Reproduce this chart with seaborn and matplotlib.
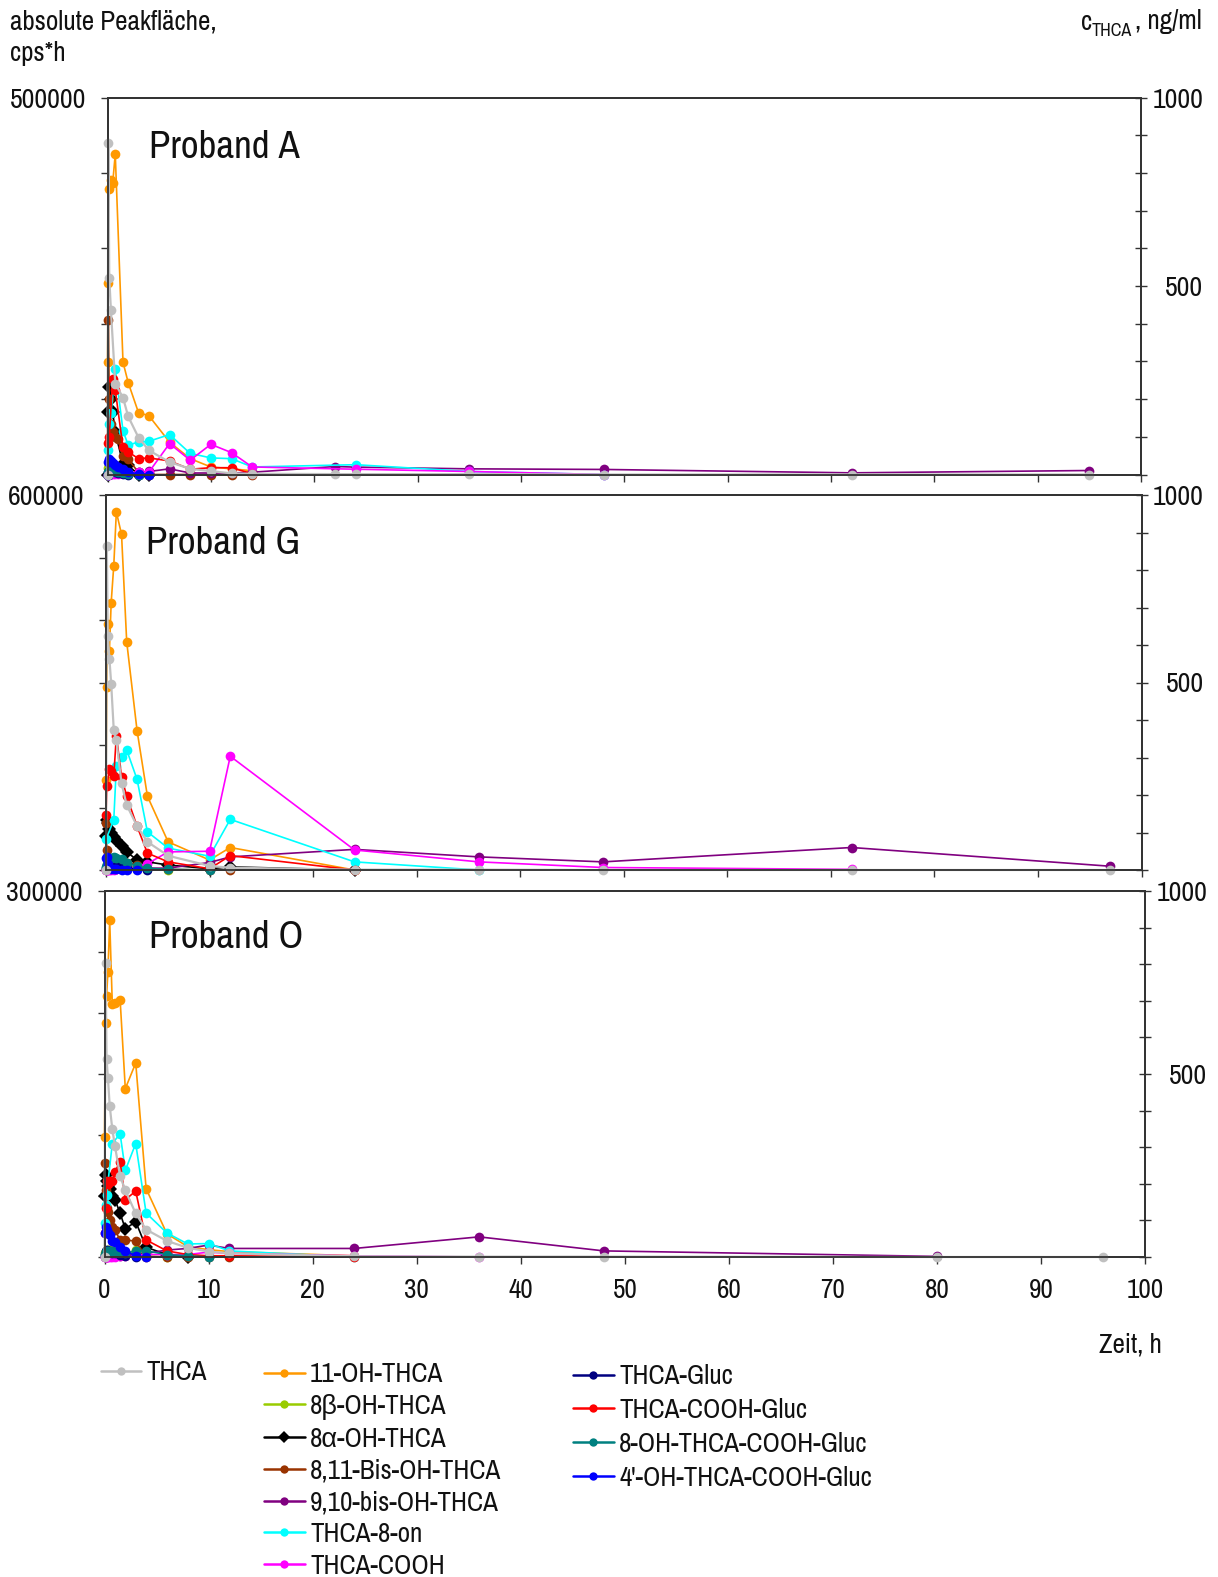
import matplotlib
matplotlib.use("Agg")
import matplotlib.pyplot as plt
import pandas as pd
import seaborn as sns
from matplotlib import font_manager as fm
from matplotlib.lines import Line2D
from matplotlib.ticker import MultipleLocator, FuncFormatter

sns.set_theme(style="white")
_installed = {f.name for f in fm.fontManager.ttflist}
NARROW = next((n for n in ("Archivo Narrow", "PT Sans Narrow", "Liberation Sans Narrow")
               if n in _installed), "Liberation Sans")
FS = 0.84 if NARROW == "Liberation Sans" else 1.0
plt.rcParams["font.family"] = [NARROW, "Liberation Sans", "DejaVu Sans"]
plt.rcParams["axes.unicode_minus"] = False

# ---------------------------------------------------------------- series
SERIES = ["THCA", "11-OH-THCA", "8β-OH-THCA", "8α-OH-THCA", "8,11-Bis-OH-THCA",
          "9,10-bis-OH-THCA", "THCA-8-on", "THCA-COOH", "THCA-Gluc",
          "THCA-COOH-Gluc", "8-OH-THCA-COOH-Gluc", "4'-OH-THCA-COOH-Gluc"]
COLORS = ["#c0c0c0", "#ff9900", "#99cc00", "#000000", "#993300", "#800080",
          "#00ffff", "#ff00ff", "#000080", "#ff0000", "#008080", "#0000ff"]
MARKERS = ["o", "o", "o", "D", "o", "o", "o", "o", "o", "o", "o", "o"]

# ---------------------------------------------------------------- Proband A
TIME_A = [0, 0.08, 0.17, 0.33, 0.5, 0.75, 1, 1.5, 2, 3, 4, 6, 8, 10, 12, 14, 22, 24, 35, 48, 72, 95]
A_THCA = [0, 880, 522, 436, None, 241, None, 204, 154, 98, 64, 33, 15, 9, 3, 2, 1, 1, 1, 0, 0, 0]
A_11OH = [149000, 254000, 378000, 391000, 386000, 425000, None, 149000, 122000, 82000, 78000,
          43000, 21000, 10000, 7500, 5000, None, None, None, None, None, None]
A_8bOH = [0, 8000, 12000, 14000, 12000, 10000, 8000, 5000, 2000, 1000] + [None] * 12
A_8aOH = [0, 83000, 116000, 100000, 83000, 56000, None, 14000, 12000, 0, 0] + [None] * 11
A_811 = [0, 205000, 100000, 67000, 56000, 50000, 47000, 25000, 20000, 3000, 0, 0, 0, 0, 0, 0] + [None] * 6
A_910 = [0, 0, 1000, 1000, 2000, 2000, 2000, 2000, 2000, 3000, 4000, 7500, 2000, 2000, 2000, 3000,
         10600, 9800, 7500, 6700, 2200, 5300]
A_8ON = [0, 33000, 67000, 81000, None, 140000, None, 58000, 39000, 43000, 44000, 53000, 28000,
         22000, 21000, 10000, None, 13000, 4000, 0, None, None]
A_COOH = [0, 0, 0, 1000, 1000, 1000, 1000, 2000, 2000, 3000, 3000, 41000, 19000, 40000, 29000,
          10000, None, 7000, 4000, 0, None, None]
A_GLUC = [0, 3000, 4000, 5000, 4000, 3000, 2000, 1000, 0, 0] + [None] * 12
A_COOHGLUC = [0, 42000, 50000, None, 127000, 112000, None, 36000, 30000, 21000, 22000, 18000,
              7000, 9000, 9000, 1000] + [None] * 6
A_8OHGLUC = [0, 3000, 5000, 6000, 5000, 4000, 3000, 2000, 1000, 0] + [None] * 12
A_4OHGLUC = [0, 16000, 20000, 18000, 15000, 12000, 10000, 7000, 3000, 1000, 0] + [None] * 11

# ---------------------------------------------------------------- Proband G
TIME_G = [0, 0.08, 0.17, 0.33, 0.5, 0.75, 1, 1.5, 2, 3, 4, 6, 10, 12, 24, 36, 48, 72, 97]
G_THCA = [0, 865, 625, 563, 497, 373, 346, 231, 173, 117, 75, 38, 11, 6, 1, 1, 0, 0, 0]
G_11OH = [144000, 293000, 394000, 351000, 428000, 487000, 573000, 537000, 365000, 223000,
          118000, 45000, 16000, 36000, 0, None, None, None, None]
G_8bOH = [2000, 6000, 10000, 9000, 8000, 8000, 7000, 8000, 6000, 3000, 1000, 0] + [None] * 7
G_8aOH = [55000, 80000, 75000, 66000, 60000, 53000, 48000, 38000, 29000, 16000, 13000, 8000,
          2000, 5000, 0] + [None] * 4
G_811 = [75000, 32000, 19000, 16000, 15000, 15000, 15000, 12000, 12000, 8000, 1000, 1000, 0, 0] + [None] * 5
G_910 = [0, 0, 1000, 1000, 1000, 1000, 1000, 2000, 2000, 3000, 3000, 3000, 12000, 21000, 33000,
         21000, 13000, 36000, 6000]
G_8ON = [49000, None, None, None, None, 80000, 166000, 181000, 192000, 145000, 61000, 35000,
         22000, 81000, 13000, 0, None, None, None]
G_COOH = [0, 0, 0, 0, 0, 0, 1000, 2000, 3000, 5000, 10000, 29000, 30000, 182000, 32000, 13000,
          4000, 1000, None]
G_GLUC = [3000, 8000, 10000, 9000, 8000, 7000, 6000, 4000, 3000, 1000, 0] + [None] * 8
G_COOHGLUC = [88000, 134000, None, 161000, 158000, 150000, 215000, 149000, 118000, 70000, 27000,
              13000, 2000, 23000, 0] + [None] * 4
G_8OHGLUC = [5000, 10000, 15000, 18000, 20000, 21000, 20000, 18000, 12000, 6000, 3000, 1000, 0] + [None] * 6
G_4OHGLUC = [19000, 21000, 10000, 3000, 2000, 1000, 1000, 0, 0, 0] + [None] * 9

# ---------------------------------------------------------------- Proband O
TIME_O = [0, 0.1, 0.2, 0.33, 0.5, 0.75, 1, 1.5, 2, 3, 4, 6, 8, 10, 12, 24, 36, 48, 80, 96]
O_THCA = [0, 803, 541, 488, 413, 349, 304, 221, 182, 119, 75, 44, 25, 15, 10, 2, 1, 1, 0, 0]
O_11OH = [98000, 192000, 214000, 234000, 276000, 207000, 208000, 211000, 138000, 159000, 56000,
          19000, 8500, 6000, 4400, 1000, None, None, None, None]
O_8bOH = [3000, 5000, 6000, 6000, 6000, 5000, 5000, 5000, 2000, 6000, 1000, 0] + [None] * 8
O_8aOH = [50000, 67000, 62000, 58000, 56000, 50000, 47000, 36000, 23000, 29000, 8000, 2000, 0] + [None] * 7
O_811 = [77000, 55000, 40000, 37000, 30000, 25000, 22000, 14000, 14000, 13000, 0, 0, 0, 0, 0] + [None] * 5
O_910 = [0, 0, 0, 1000, 1000, 1000, 1000, 1000, 2000, 2000, 3000, 5700, 7000, 9800, 7000, 7000,
         16500, 5000, 500, None]
O_8ON = [28000, 43000, 51000, None, None, 93000, None, 101000, 71000, 93000, 36000, 19700, 10700,
         11000, 5000, 0] + [None] * 4
O_COOH = [0, 0, 0, 0, 0, 0, 0, 1000, 1000, 1000, 2000, 2000, 2000, 4000, 3000, 1000, 0] + [None] * 3
O_GLUC = [2000, 5000, 6000, 5000, 4000, 3000, 3000, 2000, 1000, 0] + [None] * 10
O_COOHGLUC = [20000, 40000, 62000, 60000, 62000, 62000, 70000, 78000, 47000, 54000, 14000, 5000,
              2000, 1000, 1000, 0] + [None] * 4
O_8OHGLUC = [2000, 4000, 5000, 5000, 5000, 5000, 4000, 4000, 3000, 5000, 5000, 2000, 1000, 0] + [None] * 6
O_4OHGLUC = [20000, 25000, 22000, 20000, 18000, 13000, 12000, 8000, 5000, 1000, 0] + [None] * 9

PANELS = [
    ("Proband A", TIME_A,
     [A_THCA, A_11OH, A_8bOH, A_8aOH, A_811, A_910, A_8ON, A_COOH, A_GLUC, A_COOHGLUC, A_8OHGLUC, A_4OHGLUC],
     500000, 100000, (107.5, 97.5, 1141.0, 474.5)),
    ("Proband G", TIME_G,
     [G_THCA, G_11OH, G_8bOH, G_8aOH, G_811, G_910, G_8ON, G_COOH, G_GLUC, G_COOHGLUC, G_8OHGLUC, G_4OHGLUC],
     600000, 100000, (106.0, 495.0, 1141.5, 870.0)),
    ("Proband O", TIME_O,
     [O_THCA, O_11OH, O_8bOH, O_8aOH, O_811, O_910, O_8ON, O_COOH, O_GLUC, O_COOHGLUC, O_8OHGLUC, O_4OHGLUC],
     300000, 50000, (104.5, 891.0, 1145.0, 1257.0)),
]

# ---------------------------------------------------------------- layout helpers
W, H = 1218, 1577
fig = plt.figure(figsize=(W / 100, H / 100), dpi=100)
fig.patch.set_facecolor("white")


def fig_xy(x, y):
    return x / W, 1 - y / H


def box(l, t, r, b):
    return [l / W, 1 - b / H, (r - l) / W, (b - t) / H]


SPINE = "#333333"
INK = "#111111"
TICK_FS = 20 * FS
palette = dict(zip(SERIES, COLORS))
marker_map = dict(zip(SERIES, MARKERS))
left_names = SERIES[1:]

for i, (title, times, values, ymax, ystep, rect) in enumerate(PANELS):
    rows = []
    for name, vals in zip(SERIES, values):
        for t, v in zip(times, vals):
            if v is not None:
                rows.append({"t": t, "v": v, "series": name})
    df = pd.DataFrame(rows)

    ax = fig.add_axes(box(*rect))
    sns.lineplot(data=df[df["series"] != "THCA"], x="t", y="v", hue="series", style="series",
                 hue_order=left_names, style_order=left_names, palette=palette,
                 markers=marker_map, dashes=False, estimator=None, sort=True, legend=False,
                 linewidth=1.2, markersize=7, markeredgewidth=0, clip_on=False, ax=ax)
    ax2 = ax.twinx()
    sns.lineplot(data=df[df["series"] == "THCA"], x="t", y="v", color=COLORS[0], marker="o",
                 estimator=None, sort=True, legend=False, linewidth=1.6, markersize=7,
                 markeredgewidth=0, clip_on=False, ax=ax2)

    ax.set_xlim(0, 100)
    ax.set_ylim(0, ymax)
    ax2.set_ylim(0, 1000)
    for a in (ax, ax2):
        a.set_xlabel("")
        a.set_ylabel("")
        a.set_facecolor("none")
        for s in a.spines.values():
            s.set_color(SPINE)
            s.set_linewidth(1.3)
    ax.set_facecolor("white")
    ax.set_zorder(0)

    ax.xaxis.set_major_locator(MultipleLocator(10))
    ax.yaxis.set_major_locator(MultipleLocator(ystep))
    ax.yaxis.set_major_formatter(FuncFormatter(lambda v, p, top=ymax: f"{int(round(v))}" if abs(v - top) < 1 else ""))
    ax.tick_params(axis="y", which="major", direction="out", length=5, width=1, color=SPINE,
                   labelsize=TICK_FS, pad=10.5, left=True, labelleft=True, labelcolor=INK)
    ax.tick_params(axis="x", which="major", direction="out", length=5, width=1, color=SPINE,
                   labelsize=19.5 * FS, pad=10, bottom=True, labelbottom=(i == 2), labelcolor=INK)

    ax2.yaxis.set_major_locator(MultipleLocator(100))
    ax2.yaxis.set_major_formatter(FuncFormatter(lambda v, p: f"{int(round(v))}" if int(round(v)) in (500, 1000) else ""))
    ax2.tick_params(axis="y", which="major", direction="inout", length=8, width=1, color=SPINE,
                    labelsize=TICK_FS, pad=41, right=True, labelright=True, labelcolor=INK)
    plt.setp(ax2.get_yticklabels(), ha="right")

    tx, ty = {0: (149, 147), 1: (146, 543), 2: (149, 938)}[i]
    fig.text(*fig_xy(tx, ty), title, fontsize=28 * FS, ha="left", va="center", color=INK)

# ---------------------------------------------------------------- axis captions
fig.text(*fig_xy(10, 22), "absolute Peakfläche,", fontsize=19.5 * FS, ha="left", va="center", color=INK)
fig.text(*fig_xy(10, 53), "cps*h", fontsize=19.5 * FS, ha="left", va="center", color=INK)
fig.text(*fig_xy(1081, 22), "c", fontsize=19.5 * FS, ha="left", va="center", color=INK)
fig.text(*fig_xy(1092, 31), "THCA", fontsize=13 * FS, ha="left", va="center", color=INK)
fig.text(*fig_xy(1202, 22), ", ng/ml", fontsize=19.5 * FS, ha="right", va="center", color=INK)
fig.text(*fig_xy(1099, 1345), "Zeit, h", fontsize=19.5 * FS, ha="left", va="center", color=INK)

# ---------------------------------------------------------------- legend in three columns
def handle(idx):
    return Line2D([], [], color=COLORS[idx], marker=MARKERS[idx], markersize=6,
                  markeredgewidth=0, linewidth=1.8)


columns = [([0], (100.5, 1360), 0.25),
           ([1, 2, 3, 4, 5, 6, 7], (264, 1362), 0.25),
           ([8, 9, 10, 11], (573, 1364), 0.33)]
for idxs, (lx, ly), spacing in columns:
    fig.legend([handle(k) for k in idxs], [SERIES[k] for k in idxs],
               loc="upper left", bbox_to_anchor=fig_xy(lx, ly), frameon=False,
               fontsize=19.5 * FS, handlelength=1.5, handletextpad=0.2, labelspacing=spacing,
               borderpad=0, borderaxespad=0, labelcolor=INK)

fig.savefig("out.png", dpi=100, facecolor="white")
